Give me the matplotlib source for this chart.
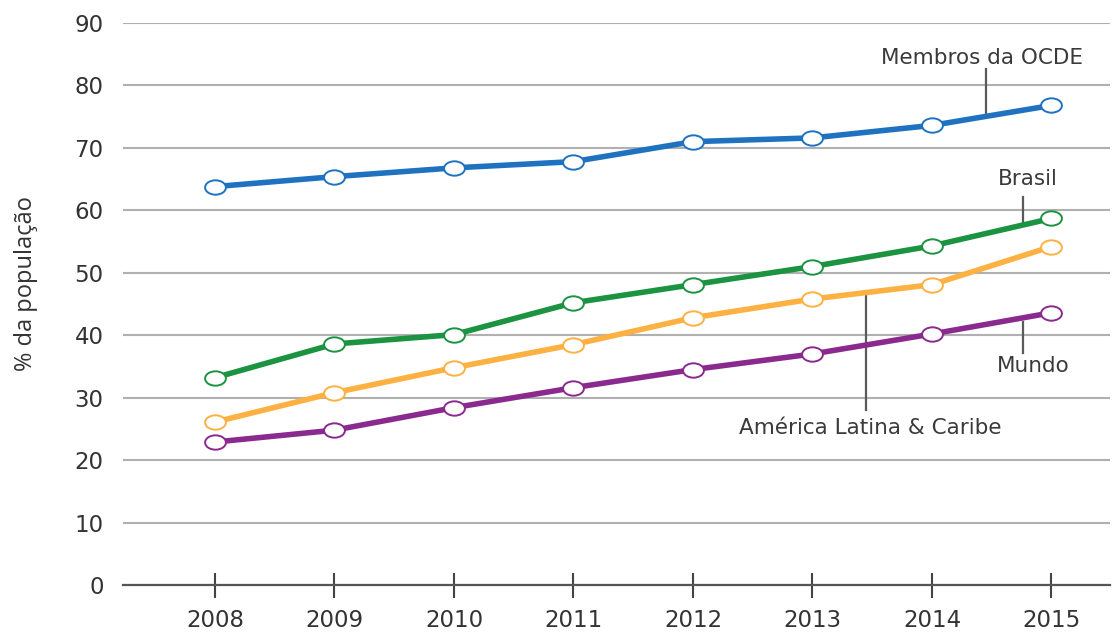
import numpy as np
import matplotlib
matplotlib.use('Agg')
import matplotlib.pyplot as plt
from matplotlib.path import Path

plt.rcParams['font.family'] = ['DejaVu Sans']

# ---- dados (% da população) ----
ANOS = [2008, 2009, 2010, 2011, 2012, 2013, 2014, 2015]
OCDE = [63.8, 65.4, 66.8, 67.8, 71.0, 71.6, 73.6, 76.8]
BRASIL = [33.2, 38.6, 40.1, 45.2, 48.1, 51.0, 54.3, 58.7]
ALC = [26.1, 30.8, 34.8, 38.5, 42.8, 45.8, 48.1, 54.2]
MUNDO = [22.9, 24.8, 28.4, 31.6, 34.5, 37.0, 40.2, 43.6]

SERIES = [
    (OCDE, '#1f72c0'),
    (BRASIL, '#1b9340'),
    (ALC, '#fdb142'),
    (MUNDO, '#8a2a8e'),
]

# marcador elíptico (um pouco mais largo que alto)
circ = Path.unit_circle()
ELIPSE = Path(circ.vertices * np.array([1.45, 1.0]), circ.codes)

fig = plt.figure(figsize=(11.13, 6.37), dpi=100)
ax = fig.add_axes([0.1105, 0.0816, 0.8868, 0.8823])

for vals, cor in SERIES:
    ax.plot(ANOS, vals, color=cor, linewidth=4.0, marker=ELIPSE,
            markersize=15, markerfacecolor='white', markeredgecolor=cor,
            markeredgewidth=1.4, zorder=3)

# ---- rótulos com linhas de chamada ----
LINHA = dict(color='#5a5a5a', linewidth=1.6, zorder=2)
TXT = dict(fontsize=15.5, color='#3a3a3a', ha='center', va='center')

ax.plot([2014.45, 2014.45], [82.6, 75.3], **LINHA)
ax.text(2014.42, 84.4, 'Membros da OCDE', **TXT)

ax.plot([2014.76, 2014.76], [62.2, 57.7], **LINHA)
ax.text(2014.80, 65.0, 'Brasil', **TXT)

ax.plot([2013.45, 2013.45], [46.8, 28.0], **LINHA)
ax.text(2013.48, 25.1, 'América Latina & Caribe', **TXT)

ax.plot([2014.76, 2014.76], [42.1, 37.2], **LINHA)
ax.text(2014.85, 35.1, 'Mundo', **TXT)

# ---- eixos ----
ax.set_xlim(2007.23, 2015.49)
ax.set_ylim(0, 90)
ax.set_yticks(range(0, 91, 10))
ax.set_xticks(ANOS)
ax.grid(axis='y', color='#b0b0b0', linewidth=1.5, zorder=0)
ax.set_axisbelow(True)

for lado in ['top', 'right', 'left']:
    ax.spines[lado].set_visible(False)
ax.spines['bottom'].set_color('#555555')
ax.spines['bottom'].set_linewidth(1.6)
ax.spines['bottom'].set_zorder(1)

ax.tick_params(axis='y', length=0, pad=14, labelsize=16.5, labelcolor='#333333')
ax.tick_params(axis='x', direction='inout', length=18, width=1.5,
               color='#444444', pad=8, labelsize=16.5, labelcolor='#333333')

ax.set_ylabel('% da população', fontsize=17, color='#333333',
              family='Open Sans')
ax.yaxis.set_label_coords(-0.086, 0.537)

fig.savefig('out.png', dpi=100)
plt.close(fig)
